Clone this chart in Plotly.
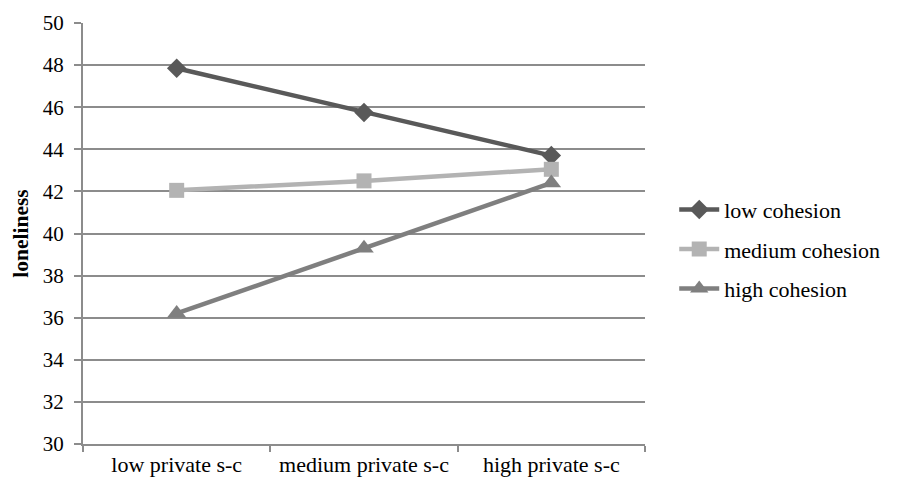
import plotly.graph_objects as go

categories = ["low private s-c", "medium private s-c", "high private s-c"]
low_cohesion = [47.85, 45.75, 43.7]
medium_cohesion = [42.05, 42.5, 43.05]
high_cohesion = [36.2, 39.3, 42.4]
y_ticks = [30, 32, 34, 36, 38, 40, 42, 44, 46, 48, 50]

series = [
    ("low cohesion", low_cohesion, "#595959", "diamond", 15),
    ("medium cohesion", medium_cohesion, "#b3b3b3", "square", 15),
    ("high cohesion", high_cohesion, "#7f7f7f", "triangle-up", 17),
]

fig = go.Figure()
for i, (name, vals, color, sym, size) in enumerate(series):
    fig.add_trace(go.Scatter(
        x=categories, y=vals, name=name, mode="lines+markers",
        legendgroup="g%d" % i,
        line=dict(color=color, width=4.5),
        marker=dict(symbol=sym, size=size, color=color),
    ))

font_family = "Liberation Serif, Times New Roman, serif"
fig.update_layout(
    width=890, height=473,
    margin=dict(l=75, r=253, t=15, b=37, autoexpand=False),
    paper_bgcolor="white", plot_bgcolor="white",
    font=dict(family=font_family, size=21, color="black"),
    showlegend=True,
    legend=dict(x=1.052, y=0.463, xanchor="left", yanchor="middle",
                font=dict(size=22, family=font_family),
                tracegroupgap=8, itemwidth=40, bgcolor="rgba(0,0,0,0)"),
)
fig.update_xaxes(
    type="category", range=[-0.5, 2.5], automargin=False,
    showline=True, linecolor="#8c8c8c", linewidth=2,
    ticks="outside", tickson="boundaries", ticklen=6, tickcolor="#8c8c8c", tickwidth=2,
    showgrid=False, tickfont=dict(size=22),
)
fig.update_yaxes(
    range=[30, 50], tickvals=y_ticks, ticktext=[str(v) for v in y_ticks],
    automargin=False,
    showline=True, linecolor="#8c8c8c", linewidth=2,
    ticks="outside", ticklen=7, tickcolor="#8c8c8c", tickwidth=2,
    showgrid=True, gridcolor="#8c8c8c", gridwidth=2, zeroline=False,
    tickfont=dict(size=21), ticklabelstandoff=6,
    title=dict(text="<b>loneliness</b>", font=dict(size=21.5), standoff=8),
)

fig.write_html("out.html")
